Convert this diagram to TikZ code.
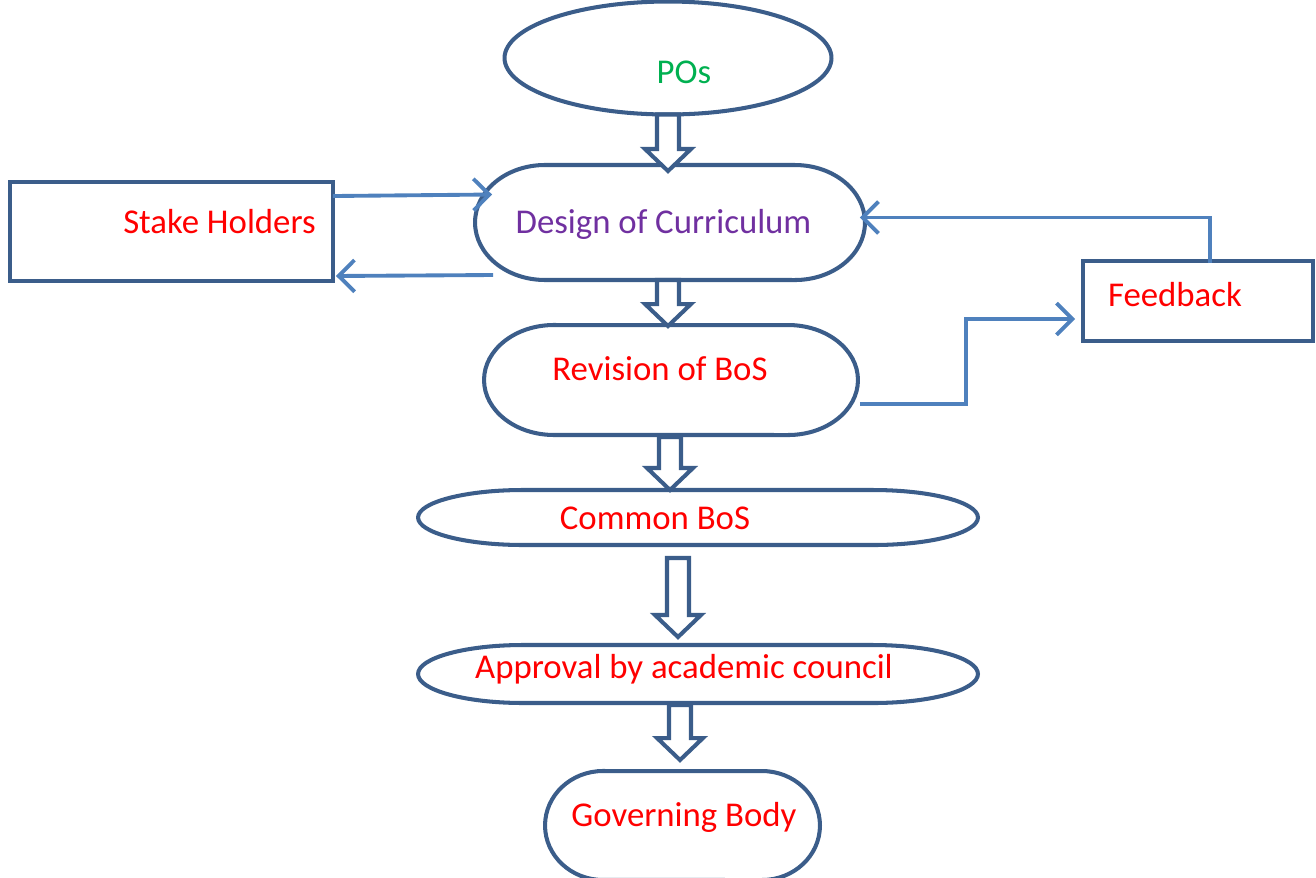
\documentclass[tikz,border=0pt]{standalone}
\usepackage{fontspec}
\setmainfont{Carlito}
\usetikzlibrary{arrows.meta,calc,shapes.geometric}
\usepackage{xcolor}

\definecolor{boxblue}{RGB}{59,93,138}
\definecolor{linkblue}{RGB}{79,129,189}
\definecolor{pogreen}{RGB}{0,176,80}
\definecolor{curpurple}{RGB}{112,48,160}

% outline with flat top and bottom and elliptical ends
\newcommand{\ovalline}[3]{%
  \draw[boxline] ($(#1.north west)+(#2,0)$) -- ($(#1.north east)+(-#2,0)$)
    arc[start angle=90,end angle=-90,x radius=#2,y radius=#3]
    -- ($(#1.south west)+(#2,0)$)
    arc[start angle=270,end angle=90,x radius=#2,y radius=#3] -- cycle;}

% hollow block arrow: from node, to node, shift of the tail, shift of the tip
\newcommand{\hollowarrow}[4]{%
  \path (#1) ++#3 coordinate (ha-tail);
  \path (#2 -| ha-tail) ++(0,#4) coordinate (ha-tip);
  \draw[boxline, fill=white] (ha-tip) -- ++(-23,22) -- ++(12,0)
    |- ($(ha-tail)+(-11,0)$) -- ++(22,0) |- ($(ha-tip)+(11,22)$) -- ++(12,0) -- cycle;}

\begin{document}
\begin{tikzpicture}[x=0.02cm, y=0.02cm]
\tikzset{
    boxline/.style={draw=boxblue, line width=2.3pt},
    flowbox/.style={inner sep=0pt, outer sep=0pt},
    flowarrow/.style={-{Straight Barb[length=9pt,width=18pt]}, draw=linkblue, line width=2.2pt},
    flowlabel/.style={inner sep=0pt, font=\fontsize{19.8}{24}\selectfont, text height=12.7pt, text depth=0pt, text=red}
}
\useasboundingbox (0,0) rectangle (1316,-877);

\node[flowbox, ellipse, boxline, minimum width=6.54cm, minimum height=2.26cm] (pos) at (668,-58) {};
\node[flowbox, minimum width=7.8cm, minimum height=2.3cm] (design) at (670,-222.5) {};
\node[flowbox, rectangle, boxline, minimum width=6.46cm, minimum height=1.98cm] (stake) at (171.5,-231.5) {};
\node[flowbox, rectangle, boxline, minimum width=4.6cm, minimum height=1.6cm] (feedback) at (1198,-301) {};
\node[flowbox, minimum width=7.48cm, minimum height=2.2cm] (revision) at (671,-380) {};
\node[flowbox, minimum width=11.2cm, minimum height=1.1cm] (common) at (698,-517.5) {};
\node[flowbox, minimum width=11.2cm, minimum height=1.16cm] (approval) at (698,-674) {};
\node[flowbox, minimum width=5.5cm, minimum height=2.18cm] (governing) at (682.5,-825.5) {};

\ovalline{design}{70}{57.5}
\ovalline{revision}{70}{55}
\ovalline{common}{105}{27.5}
\ovalline{approval}{105}{29}
\ovalline{governing}{58}{54.5}

% texts sit off the centre of their boxes
\node[flowlabel, text=pogreen] (pos-text) at (684,-72) {POs};
\node[flowlabel, text=curpurple] (design-text) at (663.5,-222) {Design of Curriculum};
\node[flowlabel] (stake-text) at (219.5,-222) {Stake Holders};
\node[flowlabel] (feedback-text) at (1175,-295.5) {Feedback};
\node[flowlabel] (revision-text) at (660,-369) {Revision of BoS};
\node[flowlabel] (common-text) at (655,-518) {Common BoS};
\node[flowlabel] (approval-text) at (684,-667) {Approval by academic council};
\node[flowlabel] (governing-text) at (684,-815) {Governing Body};

\hollowarrow{pos.south}{design.north}{(0,0)}{-6}
\hollowarrow{design.south}{revision.north}{(-2,0)}{-1}
\hollowarrow{revision.south}{common.north}{(-1,-2)}{0}
\hollowarrow{common.south}{approval.north}{(-20,-13)}{8}
\hollowarrow{approval.south}{governing.north}{(-18,-2)}{11}

\draw[flowarrow] ($(stake.north east)+(0,-14)$) -- ($(design.west)+(17,28)$);
\draw[flowarrow] ($(design.west)+(18,-52.5)$) -- ($(stake.south east)+(3,5)$);
\draw[flowarrow] ($(feedback.north west)+(127,-2)$) |- ($(design.east)+(-5,5)$);
\draw[flowarrow] ($(revision.east)+(2,-24)$) -- ++(106,0) |- ($(feedback.west)+(-8,-18)$);
% the loop back goes over the top of feedback box

\end{tikzpicture}
\end{document}
